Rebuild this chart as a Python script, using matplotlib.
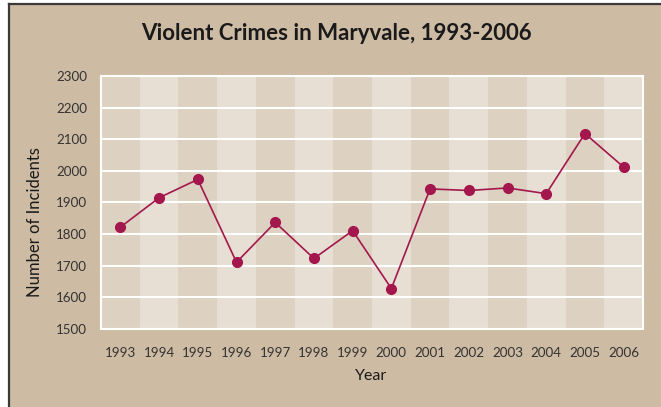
import matplotlib
matplotlib.use("Agg")
import matplotlib.pyplot as plt
from matplotlib.patches import Rectangle
from matplotlib.lines import Line2D

years = [1993, 1994, 1995, 1996, 1997, 1998, 1999, 2000, 2001, 2002, 2003, 2004, 2005, 2006]
incidents = [1822, 1915, 1973, 1711, 1837, 1723, 1811, 1628, 1943, 1938, 1946, 1928, 2118, 2012]
y_ticks = [1500, 1600, 1700, 1800, 1900, 2000, 2100, 2200, 2300]

TAN = "#cdbba3"
DARK_STRIPE = "#ddd1c1"
LIGHT_STRIPE = "#e7dfd4"
LINE = "#a3174c"

W, H = 661, 407
fig = plt.figure(figsize=(W / 100, H / 100), dpi=100, facecolor="white")

# tan panel with dark border at left and top
fig.patches.append(Rectangle((9 / W, 0), 1, (H - 4) / H, transform=fig.transFigure,
                             facecolor=TAN, edgecolor="none", zorder=-5))
fig.lines.append(Line2D([8.5 / W, 8.5 / W], [0, (H - 3.5) / H], transform=fig.transFigure,
                        color="#3a3a3a", lw=1.6, zorder=-4))
fig.lines.append(Line2D([8.5 / W, 1], [(H - 3.5) / H, (H - 3.5) / H], transform=fig.transFigure,
                        color="#3a3a3a", lw=1.6, zorder=-4))

left, right, top, bottom = 101, 643, 76, 329
ax = fig.add_axes([left / W, 1 - bottom / H, (right - left) / W, (bottom - top) / H])
ax.set_zorder(2)
ax.set_facecolor(DARK_STRIPE)

x = list(range(len(years)))
for i in x:
    ax.axvspan(i - 0.5, i + 0.5, color=DARK_STRIPE if i % 2 == 0 else LIGHT_STRIPE, lw=0, zorder=0)

ax.set_xlim(-0.5, len(years) - 0.5)
ax.set_ylim(1500, 2300)
ax.set_yticks(y_ticks)
ax.set_xticks(x)
ax.set_xticklabels([str(y) for y in years])
for yv in y_ticks:
    ax.axhline(yv, color="white", lw=1.5, zorder=1)

ax.plot(x, incidents, color=LINE, lw=1.2, marker="o", markersize=7,
        markerfacecolor=LINE, markeredgecolor=LINE, zorder=3)

for s in ax.spines.values():
    s.set_color("white")
    s.set_linewidth(1.5)

ax.tick_params(length=0, colors="#333333", labelsize=9.6)
ax.tick_params(axis="x", pad=13)
ax.tick_params(axis="y", pad=10)
for lab in ax.get_xticklabels() + ax.get_yticklabels():
    lab.set_fontfamily(["Lato", "DejaVu Sans"])

fig.text(336 / W, 1 - 33 / H, "Violent Crimes in Maryvale, 1993-2006", ha="center", va="center",
         fontsize=16, fontweight="bold", family=["Lato", "DejaVu Sans"], color="#1a1a1a")
fig.text(371 / W, 1 - 376 / H, "Year", ha="center", va="center",
         fontsize=11.5, family=["Lato", "DejaVu Sans"], color="#1a1a1a")
fig.text(35 / W, 1 - 222 / H, "Number of Incidents", ha="center", va="center", rotation=90,
         fontsize=12, family=["Lato", "DejaVu Sans"], color="#1a1a1a")

fig.savefig("out.png", dpi=100, facecolor="white")
